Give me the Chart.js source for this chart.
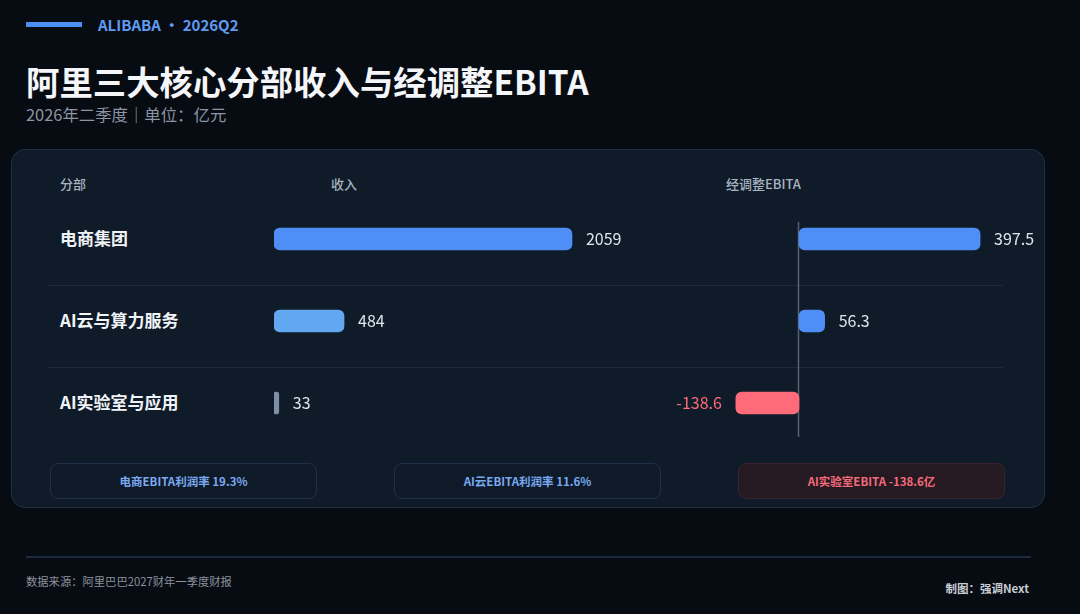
<!DOCTYPE html>
<html>
<head>
<meta charset="utf-8">
<script src="https://cdn.jsdelivr.net/npm/chart.js@4.4.1/dist/chart.umd.min.js"></script>
<style>
  html, body { margin: 0; padding: 0; }
  body {
    width: 1080px; height: 614px; overflow: hidden; position: relative;
    background: #070b12;
    font-family: "Noto Sans CJK SC", "Noto Sans", sans-serif;
  }
  .abs { position: absolute; white-space: nowrap; }
  .accent { left: 26px; top: 22px; width: 56px; height: 5px; background: #4d8ef5; }
  .kicker { left: 98px; top: 14px; font-size: 15px; font-weight: 700; color: #5f9bf0; line-height: 22px; }
  .title { left: 26px; top: 60px; font-size: 33.4px; font-weight: 700; color: #f4f6f9; line-height: 42px; }
  .sub { left: 26px; top: 103px; font-size: 16.4px; color: #8b95a3; line-height: 22px; }
  .card {
    left: 11px; top: 149px; width: 1032px; height: 357px;
    background: #0f1b29; border: 1px solid #1f3045; border-radius: 14px;
  }
  .colhead { top: 175px; font-size: 13px; font-weight: 500; color: #a9b3c0; line-height: 18px; }
  .rowlabel { left: 60px; font-size: 17px; font-weight: 700; color: #f0f3f7; line-height: 24px; }
  .sep { left: 48px; width: 955px; height: 1px; background: #1c2a3b; }
  .badge {
    top: 463px; width: 265px; height: 34px; border-radius: 8px;
    border: 1px solid #1f3048; background: #0e1a28;
    font-size: 11.5px; font-weight: 700; color: #7aa9f0;
    text-align: center; line-height: 34px;
  }
  .badge.neg { border-color: #3a2230; background: #261a22; color: #f36a7a; }
  .foot { left: 26px; top: 556px; width: 1005px; height: 2px; background: #1b2a3d; }
  .src { left: 26px; top: 572px; font-size: 11.3px; color: #8a929c; line-height: 18px; }
  .credit { right: 51px; top: 579px; font-size: 11.5px; font-weight: 700; color: #c8cdd4; line-height: 18px; }
  canvas { position: absolute; }
</style>
</head>
<body>
<div class="abs accent"></div>
<div class="abs kicker">ALIBABA · 2026Q2</div>
<div class="abs title">阿里三大核心分部收入与经调整EBITA</div>
<div class="abs sub">2026年二季度｜单位：亿元</div>

<div class="abs card"></div>
<div class="abs colhead" style="left:60px">分部</div>
<div class="abs colhead" style="left:331px">收入</div>
<div class="abs colhead" style="left:726px">经调整EBITA</div>

<div class="abs sep" style="top:285px"></div>
<div class="abs sep" style="top:367px"></div>

<div id="rowLabels"></div>

<canvas id="revChart" width="400" height="246" style="left:274px; top:198px"></canvas>
<canvas id="ebitaChart" width="400" height="246" style="left:640px; top:198px"></canvas>

<div id="badges"></div>

<div class="abs foot"></div>
<div class="abs src">数据来源：阿里巴巴2027财年一季度财报</div>
<div class="abs credit">制图：强调Next</div>

<script>
// data
const segments = ['电商集团', 'AI云与算力服务', 'AI实验室与应用'];
const revenue = [2059, 484, 33];
const ebita = [397.5, 56.3, -138.6];
const badgeTexts = ['电商EBITA利润率 19.3%', 'AI云EBITA利润率 11.6%', 'AI实验室EBITA -138.6亿'];

const revColors = ['#4f8ef7', '#62a8f0', '#7d8ea5'];
const posColor = '#4f8ef7';
const negColor = '#ff6b78';

// row labels and badges
const rowCenters = [239, 321, 403];
const labelBox = document.getElementById('rowLabels');
segments.forEach((name, i) => {
    const d = document.createElement('div');
    d.className = 'abs rowlabel';
    d.style.top = (rowCenters[i] - 13) + 'px';
    d.textContent = name;
    labelBox.appendChild(d);
});

const badgeLefts = [50, 394, 738];
const badgeBox = document.getElementById('badges');
badgeTexts.forEach((t, i) => {
    const d = document.createElement('div');
    d.className = 'abs badge' + (i === 2 ? ' neg' : '');
    d.style.left = badgeLefts[i] + 'px';
    d.textContent = t;
    badgeBox.appendChild(d);
});

// value labels next to bar ends
const valueLabels = {
    id: 'valueLabels',
    afterDatasetsDraw(chart) {
        const ctx = chart.ctx;
        const meta = chart.getDatasetMeta(0);
        const values = chart.data.datasets[0].data;
        ctx.save();
        ctx.font = '16px "Noto Sans CJK SC", "Noto Sans", sans-serif';
        ctx.textBaseline = 'middle';
        meta.data.forEach((bar, i) => {
            const v = values[i];
            if (v < 0) {
                ctx.fillStyle = negColor;
                ctx.textAlign = 'right';
                ctx.fillText(String(v), bar.x - 14, bar.y);
            } else {
                ctx.fillStyle = '#dfe4ea';
                ctx.textAlign = 'left';
                ctx.fillText(String(v), bar.x + 14, bar.y);
            }
        });
        ctx.restore();
    }
};

// zero line for the EBITA chart
const zeroLine = {
    id: 'zeroLine',
    beforeDatasetsDraw(chart) {
        const ctx = chart.ctx;
        const x = Math.round(chart.scales.x.getPixelForValue(0)) - 0.5;
        ctx.save();
        ctx.strokeStyle = '#566272';
        ctx.lineWidth = 1.5;
        ctx.beginPath();
        ctx.moveTo(x, chart.chartArea.top + 24);
        ctx.lineTo(x, chart.chartArea.bottom - 7);
        ctx.stroke();
        ctx.restore();
    }
};

function barOptions(min, max) {
    return {
        indexAxis: 'y',
        responsive: false,
        animation: false,
        layout: { padding: 0 },
        plugins: { legend: { display: false }, tooltip: { enabled: false } },
        scales: {
            x: { display: false, min: min, max: max },
            y: { display: false }
        }
    };
}

new Chart(document.getElementById('revChart').getContext('2d'), {
    type: 'bar',
    data: {
        labels: segments,
        datasets: [{
            data: revenue,
            backgroundColor: revColors,
            barThickness: 22,
            borderRadius: 6,
            borderSkipped: false
        }]
    },
    options: barOptions(0, 2764),
    plugins: [valueLabels]
});

new Chart(document.getElementById('ebitaChart').getContext('2d'), {
    type: 'bar',
    data: {
        labels: segments,
        datasets: [{
            data: ebita,
            backgroundColor: ebita.map(v => v < 0 ? negColor : posColor),
            barThickness: 22,
            borderRadius: 6,
            borderSkipped: false
        }]
    },
    options: barOptions(-349, 529),
    plugins: [zeroLine, valueLabels]
});
</script>
</body>
</html>
